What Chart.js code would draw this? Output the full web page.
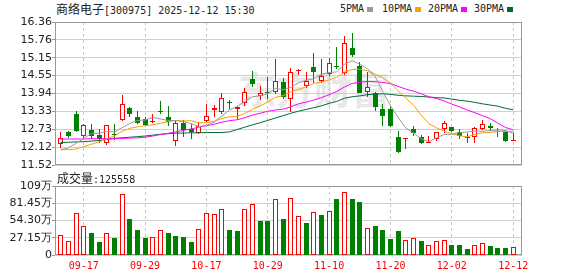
<!DOCTYPE html>
<html lang="zh">
<head>
<meta charset="UTF-8">
<title>商络电子 日K</title>
<script src="https://cdn.jsdelivr.net/npm/chart.js"></script>
<style>
  body { margin: 0; background: #fff; }
  #wrap { position: relative; width: 578px; height: 276px; overflow: hidden; color: #222; }
  .txt { position: absolute; white-space: nowrap; line-height: 12px; font-family: "DejaVu Sans Mono", monospace; font-size: 10px; }
  .cjk { font-family: "Noto Sans CJK SC", sans-serif; font-size: 12px; }
  .sq { position: absolute; width: 6px; height: 5px; top: 7px; }
  canvas { position: absolute; left: 0; }
</style>
</head>
<body>
<div id="wrap">
  <div class="txt" style="left:56px; top:3px;"><span class="cjk">商络电子</span>[300975] 2025-12-12 15:30</div>
  <div class="txt" style="left:340px; top:3px;">5PMA</div><div class="sq" style="left:367px; background:#999;"></div>
  <div class="txt" style="left:382px; top:3px;">10PMA</div><div class="sq" style="left:415px; background:#f5a300;"></div>
  <div class="txt" style="left:428px; top:3px;">20PMA</div><div class="sq" style="left:461px; background:#ff00ff;"></div>
  <div class="txt" style="left:474px; top:3px;">30PMA</div><div class="sq" style="left:507px; background:#006a35;"></div>
  <canvas id="price" width="578" height="172" style="top:0"></canvas>
  <canvas id="volume" width="578" height="104" style="top:172px"></canvas>
  <div class="txt" id="volLabel" style="left:57px; top:172px;"></div>
</div>

<script>
const dates = ['09-12','09-15','09-16','09-17','09-18','09-19','09-22','09-23','09-24','09-25',
  '09-26','09-29','09-30','10-09','10-10','10-13','10-14','10-15','10-16','10-17',
  '10-20','10-21','10-22','10-23','10-24','10-27','10-28','10-29','10-30','10-31',
  '11-03','11-04','11-05','11-06','11-07','11-10','11-11','11-12','11-13','11-14',
  '11-17','11-18','11-19','11-20','11-21','11-24','11-25','11-26','11-27','11-28',
  '12-01','12-02','12-03','12-04','12-05','12-08','12-09','12-10','12-11','12-12'];
const labelDays = ['09-17','09-29','10-17','10-29','11-10','11-20','12-02','12-12'];

const opens = [12.23,12.64,13.24,12.51,12.71,12.54,12.25,12.58,13.04,13.46,
  13.13,13.07,12.97,13.32,13.13,12.34,12.93,12.73,12.61,13.02,
  13.38,13.33,13.64,13.42,13.63,14.43,13.87,13.97,14.00,14.34,
  13.74,14.70,14.20,14.83,14.37,14.59,14.86,14.62,15.47,14.88,
  14.00,13.97,13.41,13.41,12.48,12.39,12.73,12.46,12.28,12.39,
  12.73,12.80,12.65,12.42,12.46,12.73,12.84,12.63,12.65,12.34];
const highs = [12.63,12.67,13.35,12.90,12.91,12.74,12.88,12.92,13.89,13.49,
  13.35,13.15,13.24,13.69,13.52,13.04,13.04,12.91,12.99,13.57,
  13.55,13.97,13.72,13.52,14.12,14.70,14.19,14.50,15.10,14.45,
  14.79,14.76,14.66,15.30,15.10,15.13,15.52,15.89,16.00,15.02,
  14.68,14.00,13.59,13.49,12.66,12.42,12.84,12.54,12.50,12.65,
  13.01,12.82,12.73,12.59,12.82,13.04,12.93,12.76,12.71,12.59];
const lows = [12.11,12.45,12.64,12.39,12.40,12.27,12.20,12.35,13.01,13.13,
  12.91,12.84,12.95,13.24,12.84,12.17,12.48,12.39,12.57,12.99,
  13.13,13.25,13.41,13.07,13.52,14.15,13.72,13.75,13.92,13.75,
  13.32,14.57,14.12,14.29,14.29,14.53,14.76,14.57,15.19,13.95,
  13.81,13.36,12.84,12.82,11.93,12.05,12.50,12.23,12.25,12.34,
  12.61,12.65,12.40,12.28,12.28,12.71,12.68,12.48,12.31,12.34];
const closes = [12.42,12.50,12.68,12.86,12.51,12.40,12.86,12.55,13.57,13.24,
  12.95,12.87,13.02,13.30,12.99,12.93,12.71,12.65,12.84,13.19,
  13.46,13.78,13.62,13.47,14.00,14.26,13.97,13.95,14.37,13.81,
  14.66,14.72,14.37,14.66,14.53,14.96,14.84,15.66,15.24,13.97,
  14.17,13.49,13.18,12.84,11.95,12.41,12.61,12.25,12.31,12.63,
  12.93,12.68,12.50,12.47,12.76,12.91,12.76,12.65,12.34,12.35];
const prevClose = 12.21;

const volumes = [307000,217000,658000,450000,343000,200000,354000,275000,953000,559000,
  386000,265000,290000,400000,340000,296000,280000,200000,410000,658000,
  638000,717000,400000,370000,728000,795000,528000,543000,885000,570000,
  900000,617000,496000,680000,622000,696000,874000,995000,874000,842000,
  428000,449000,386000,244000,370000,239000,270000,213000,160000,224000,
  240000,165000,150000,102000,160000,192000,145000,118000,118000,125558];

const ma5 = [12.02,12.10,12.25,12.42,12.59,12.59,12.66,12.64,12.78,12.92,
  13.03,13.04,13.13,13.08,13.03,13.02,12.99,12.92,12.82,12.86,
  12.97,13.18,13.38,13.50,13.67,13.83,13.86,13.93,14.11,14.07,
  14.15,14.30,14.39,14.44,14.59,14.65,14.67,14.93,15.05,14.93,
  14.78,14.51,14.01,13.53,13.13,12.77,12.60,12.41,12.31,12.44,
  12.55,12.56,12.61,12.64,12.67,12.66,12.68,12.71,12.68,12.60];
const ma10 = [12.06,12.04,12.06,12.14,12.22,12.30,12.40,12.50,12.66,12.76,
  12.81,12.85,12.88,12.93,12.98,13.03,13.01,13.02,12.95,12.95,
  13.00,13.09,13.15,13.16,13.27,13.40,13.52,13.65,13.81,13.87,
  13.99,14.08,14.16,14.28,14.33,14.40,14.49,14.66,14.75,14.76,
  14.71,14.59,14.47,14.29,14.03,13.78,13.55,13.21,12.92,12.78,
  12.66,12.58,12.51,12.47,12.56,12.61,12.62,12.66,12.66,12.64];
const ma20 = [12.40,12.40,12.40,12.40,12.41,12.41,12.41,12.42,12.42,12.43,
  12.44,12.46,12.50,12.55,12.59,12.64,12.69,12.74,12.80,12.85,
  12.90,12.97,13.02,13.05,13.12,13.21,13.27,13.34,13.38,13.41,
  13.49,13.59,13.65,13.72,13.80,13.90,14.01,14.16,14.28,14.32,
  14.35,14.34,14.31,14.28,14.18,14.09,14.02,13.93,13.83,13.77,
  13.69,13.58,13.49,13.38,13.29,13.19,13.09,12.94,12.79,12.71];
const ma30 = [12.28,12.29,12.30,12.31,12.33,12.35,12.38,12.42,12.44,12.46,
  12.48,12.50,12.53,12.56,12.58,12.60,12.60,12.61,12.61,12.62,
  12.62,12.62,12.64,12.72,12.80,12.88,12.95,13.03,13.11,13.19,
  13.27,13.34,13.40,13.46,13.52,13.61,13.67,13.78,13.83,13.86,
  13.90,13.92,13.93,13.91,13.88,13.86,13.85,13.84,13.82,13.80,
  13.79,13.75,13.71,13.68,13.64,13.59,13.55,13.51,13.44,13.39];

const priceTicks = [11.52, 12.12, 12.73, 13.33, 13.94, 14.55, 15.15, 15.76, 16.36];
const volTicks = [0, 271500, 543000, 814500, 1086000];
const volTickLabels = ['0', '27.15万', '54.30万', '81.45万', '109万'];

const RED = '#ff0000';
const GREEN = '#008000';
const idx = dates.map((d, i) => i);
const labelIdx = idx.filter(i => labelDays.includes(dates[i]));
const candleUp = idx.map(i => closes[i] >= opens[i]);
const volUp = idx.map(i => closes[i] >= (i ? closes[i - 1] : prevClose));

document.getElementById('volLabel').innerHTML = '<span class="cjk">成交量</span>:' + volumes[volumes.length - 1];

// frame round the plot area, plus the faint watermark
const framePlugin = {
    id: 'frame',
    beforeDatasetsDraw(chart, args, opts) {
        const { ctx, chartArea: a } = chart;
        ctx.save();
        if (opts.watermark) {
            ctx.fillStyle = 'rgba(190,190,190,0.35)';
            ctx.font = 'bold 38px "Noto Sans CJK SC"';
            ctx.textBaseline = 'middle';
            ctx.fillText(opts.watermark, 238, 90);
        }
        ctx.strokeStyle = '#999';
        ctx.lineWidth = 1;
        ctx.strokeRect(a.left + 0.5, a.top + 0.5, a.width - 1, a.height - 1);
        ctx.restore();
    }
};

// snap bar edges to whole pixels so the thin outlines stay sharp
const snapPlugin = {
    id: 'snap',
    afterDatasetsUpdate(chart) {
        chart.data.datasets.forEach((ds, di) => {
            const meta = chart.getDatasetMeta(di);
            if (meta.type !== 'bar') return;
            meta.data.forEach(el => {
                el.x = Math.floor(el.x) + 0.5;
                el.y = Math.round(el.y);
                el.base = Math.round(el.base);
                if (el.y === el.base) el.y -= 1;
            });
        });
    }
};

const xAxis = (showLabels) => ({
    type: 'linear', min: -0.74, max: 60.15, offset: false,
    afterBuildTicks: s => { s.ticks = labelIdx.map(v => ({ value: v })); },
    afterFit: s => { s.height = showLabels ? 20 : 0; },
    ticks: {
        display: showLabels, autoSkip: false, maxRotation: 0, padding: 5,
        color: RED, font: { family: 'DejaVu Sans Mono', size: 10 },
        callback: v => dates[v]
    },
    grid: { color: '#c8c8c8', offset: false, drawTicks: false },
    border: { display: false, dash: [3, 3] }
});

const tickFont = { family: 'DejaVu Sans', size: 11 };

const maLine = (data, color) => ({
    type: 'line',
    data: idx.map(i => ({ x: i, y: data[i] })),
    borderColor: color, borderWidth: 1, pointRadius: 0, tension: 0, fill: false, order: 0
});

new Chart(document.getElementById('price'), {
    type: 'bar',
    data: {
        datasets: [
            maLine(ma5, '#999999'),
            maLine(ma10, '#f5a300'),
            maLine(ma20, '#ff00ff'),
            maLine(ma30, '#006a35'),
            {
                data: idx.map(i => ({ x: i, y: [opens[i], closes[i]] })),
                backgroundColor: candleUp.map(u => u ? '#ffffff' : GREEN),
                borderColor: candleUp.map(u => u ? RED : GREEN),
                borderWidth: 1, borderSkipped: false, inflateAmount: 0,
                barThickness: 5, grouped: false, order: 1
            },
            {
                data: idx.map(i => ({ x: i, y: [lows[i], highs[i]] })),
                backgroundColor: candleUp.map(u => u ? RED : GREEN),
                borderWidth: 0, inflateAmount: 0,
                barThickness: 1, grouped: false, order: 2
            }
        ]
    },
    options: {
        responsive: false, animation: false, devicePixelRatio: 1,
        layout: { padding: { left: 0, top: 22, right: 56, bottom: 7 } },
        plugins: { legend: { display: false }, tooltip: { enabled: false }, frame: { watermark: '东方财富' } },
        scales: {
            x: xAxis(false),
            y: {
                min: 11.52, max: 16.36,
                afterBuildTicks: s => { s.ticks = priceTicks.map(v => ({ value: v })); },
                afterFit: s => { s.width = 55; },
                ticks: { autoSkip: false, padding: 0, color: '#222', font: tickFont, callback: v => v.toFixed(2) },
                grid: { color: '#d0d0d0', tickLength: 3, tickColor: '#999' },
                border: { display: false }
            }
        }
    },
    plugins: [framePlugin, snapPlugin]
});

new Chart(document.getElementById('volume'), {
    type: 'bar',
    data: {
        datasets: [{
            data: idx.map(i => ({ x: i, y: volumes[i] })),
            backgroundColor: volUp.map(u => u ? '#ffffff' : GREEN),
            borderColor: volUp.map(u => u ? RED : GREEN),
            borderWidth: 1, borderSkipped: false, inflateAmount: 0,
            barThickness: 5, grouped: false
        }]
    },
    options: {
        responsive: false, animation: false, devicePixelRatio: 1,
        layout: { padding: { left: 0, top: 14, right: 56, bottom: 1 } },
        plugins: { legend: { display: false }, tooltip: { enabled: false } },
        scales: {
            x: xAxis(true),
            y: {
                min: 0, max: 1086000,
                afterBuildTicks: s => { s.ticks = volTicks.map(v => ({ value: v })); },
                afterFit: s => { s.width = 55; },
                ticks: { autoSkip: false, padding: 0, color: '#222', font: tickFont, callback: (v, i) => volTickLabels[i] },
                grid: { color: '#d0d0d0', tickLength: 3, tickColor: '#999' },
                border: { display: false }
            }
        }
    },
    plugins: [framePlugin, snapPlugin]
});
</script>
</body>
</html>
